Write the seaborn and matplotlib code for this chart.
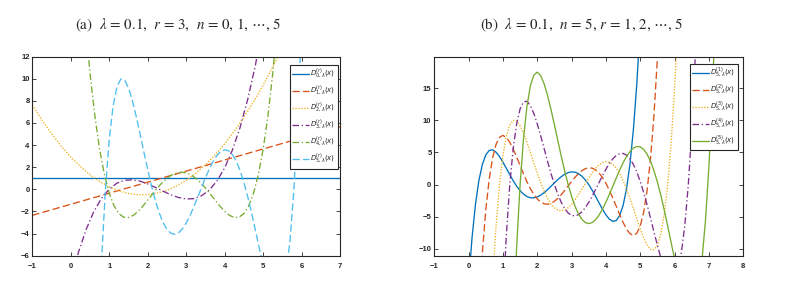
import numpy as np
import matplotlib
matplotlib.use("Agg")
import matplotlib.pyplot as plt
import seaborn as sns

# values at regular x steps
def grid(start, step, n):
    return np.round(start + step * np.arange(n), 3)

# ---- panel (a): lambda = 0.1, r = 3, n = 0..5
xa_line = [-1, 7]
a_n0 = [1.0, 1.0]
a_n1 = [-2.35, 5.65]
# n=2, x from -1 every 0.25
a_n2 = [7.62, 6.26, 5.02, 3.91, 2.92, 2.06, 1.32, 0.71, 0.22, -0.14, -0.38, -0.49,
        -0.48, -0.34, -0.08, 0.31, 0.82, 1.46, 2.22, 3.11, 4.12, 5.26, 6.52, 7.91,
        9.42, 11.06, 12.82]
# n=3, x from 0 every 0.2
a_n3 = [-8.24, -5.67, -3.61, -2.00, -0.80, 0.03, 0.56, 0.82, 0.86, 0.74, 0.49, 0.17,
        -0.17, -0.49, -0.74, -0.87, -0.84, -0.58, -0.07, 0.76, 1.94, 3.54, 5.59, 8.14,
        11.24, 14.94]
# n=4, x from 0.375 every 0.125
a_n4 = [15.24, 10.47, 6.63, 3.61, 1.31, -0.36, -1.50, -2.20, -2.52, -2.55, -2.35, -1.99,
        -1.51, -0.97, -0.42, 0.12, 0.60, 1.00, 1.30, 1.49, 1.55, 1.49, 1.30, 1.00,
        0.60, 0.12, -0.42, -0.97, -1.51, -1.99, -2.35, -2.55, -2.52, -2.20, -1.50, -0.36,
        1.31, 3.61, 6.63, 10.47, 15.24]

# ---- panel (b): lambda = 0.1, n = 5, r = 1..5 (x every 0.1)
b_r1 = [-15.20, -8.26, -3.07, 0.64, 3.12, 4.61, 5.31, 5.41, 5.04, 4.37, 3.50, 2.53,
        1.54, 0.60, -0.24, -0.94, -1.48, -1.85, -2.04, -2.06, -1.92, -1.64, -1.25, -0.78,
        -0.27, 0.27, 0.78, 1.24, 1.61, 1.86, 1.98, 1.93, 1.71, 1.31, 0.73, 0.00,
        -0.87, -1.83, -2.84, -3.82, -4.70, -5.37, -5.71, -5.58, -4.82, -3.25, -0.66, 3.18,
        8.53, 15.66, 24.90]
b_r2 = [-19.41, -10.65, -4.01, 0.84, 4.18, 6.27, 7.36, 7.65, 7.33, 6.57, 5.51, 4.27,
        2.96, 1.66, 0.45, -0.63, -1.53, -2.23, -2.72, -2.99, -3.05, -2.91, -2.59, -2.13,
        -1.56, -0.90, -0.21, 0.48, 1.14, 1.71, 2.17, 2.48, 2.62, 2.56, 2.29, 1.80,
        1.10, 0.20, -0.87, -2.08, -3.36, -4.65, -5.87, -6.90, -7.63, -7.91, -7.57, -6.43,
        -4.27, -0.86, 4.08, 10.82, 19.70, 31.06]
b_r3 = [-14.94, -6.39, 0.00, 4.54, 7.54, 9.27, 9.98, 9.88, 9.17, 8.03, 6.60, 5.01,
        3.37, 1.77, 0.28, -1.04, -2.14, -3.01, -3.62, -3.97, -4.07, -3.93, -3.58, -3.05,
        -2.36, -1.57, -0.71, 0.18, 1.04, 1.84, 2.53, 3.07, 3.43, 3.58, 3.49, 3.15,
        2.56, 1.71, 0.62, -0.67, -2.14, -3.71, -5.32, -6.89, -8.29, -9.40, -10.07, -10.14,
        -9.39, -7.63, -4.58, 0.00, 6.43, 15.04, 26.18]
b_r4 = [-18.08, -7.79, 0.00, 5.64, 9.46, 11.78, 12.86, 12.96, 12.29, 11.06, 9.44, 7.58,
        5.60, 3.62, 1.73, 0.00, -1.51, -2.77, -3.74, -4.41, -4.78, -4.87, -4.67, -4.24,
        -3.58, -2.76, -1.80, -0.75, 0.32, 1.39, 2.39, 3.28, 4.00, 4.53, 4.83, 4.85,
        4.59, 4.02, 3.14, 1.96, 0.49, -1.23, -3.15, -5.22, -7.35, -9.44, -11.38, -13.03,
        -14.24, -14.81, -14.54, -13.19, -10.52, -6.23, 0.00, 8.51, 19.67, 33.91]
b_r5 = [-22.36, -9.71, 0.00, 7.17, 12.18, 15.36, 17.03, 17.48, 16.95, 15.67, 13.86, 11.68,
        9.29, 6.82, 4.39, 2.09, 0.00, -1.83, -3.36, -4.55, -5.40, -5.90, -6.06, -5.90,
        -5.45, -4.74, -3.82, -2.73, -1.53, -0.26, 1.02, 2.25, 3.39, 4.37, 5.15, 5.68,
        5.93, 5.87, 5.47, 4.72, 3.62, 2.17, 0.39, -1.67, -3.98, -6.45, -9.02, -11.56,
        -13.96, -16.08, -17.74, -18.75, -18.90, -17.95, -15.61, -11.60, -5.59, 2.78,
        13.91, 28.22]
# D^(3)_{5} is the same curve in both panels
a_n5 = b_r3

xa2 = grid(-1.0, 0.25, len(a_n2))
xa3 = grid(0.0, 0.2, len(a_n3))
xa4 = grid(0.375, 0.125, len(a_n4))
xa5 = grid(0.7, 0.1, len(a_n5))
xb1 = grid(0.0, 0.1, len(b_r1))
xb2 = grid(0.3, 0.1, len(b_r2))
xb3 = grid(0.7, 0.1, len(b_r3))
xb4 = grid(1.0, 0.1, len(b_r4))
xb5 = grid(1.3, 0.1, len(b_r5))

# matlab default colours
blue, orange, yellow = '#0072BD', '#D95319', '#EDB120'
purple, green, cyan = '#7E2F8E', '#77AC30', '#4DBEEE'
solid = '-'
dashed = (0, (5.5, 2.5))
dotted = (0, (1, 1.2))
dashdot = (0, (5, 2, 1, 2))

sns.set_style('ticks')
plt.rcParams['font.family'] = ['Liberation Sans', 'DejaVu Sans']
plt.rcParams['mathtext.fontset'] = 'stix'

fig = plt.figure(figsize=(7.89, 2.83), dpi=100)
ax_a = fig.add_axes([0.041, 0.0965, 0.390, 0.7035])
ax_b = fig.add_axes([0.5504, 0.0965, 0.3916, 0.7035])

curves_a = [
    (xa_line, a_n0, blue, solid),
    (xa_line, a_n1, orange, dashed),
    (xa2, a_n2, yellow, dotted),
    (xa3, a_n3, purple, dashdot),
    (xa4, a_n4, green, dashdot),
    (xa5, a_n5, cyan, dashed),
]
for n, (xs, ys, c, ls) in enumerate(curves_a):
    sns.lineplot(x=xs, y=ys, ax=ax_a, color=c, linestyle=ls, linewidth=0.95,
                 sort=False, estimator=None, label=r'$D^{(r)}_{%d,\lambda}(x)$' % n)

curves_b = [
    (xb1, b_r1, blue, solid),
    (xb2, b_r2, orange, dashed),
    (xb3, b_r3, yellow, dotted),
    (xb4, b_r4, purple, dashdot),
    (xb5, b_r5, green, solid),
]
for r, (xs, ys, c, ls) in enumerate(curves_b, start=1):
    sns.lineplot(x=xs, y=ys, ax=ax_b, color=c, linestyle=ls, linewidth=0.95,
                 sort=False, estimator=None, label=r'$D^{(%d)}_{5,\lambda}(x)$' % r)

ax_a.set_xlim(-1, 7)
ax_a.set_ylim(-6, 12)
ax_a.set_xticks(range(-1, 8))
ax_a.set_yticks(range(-6, 13, 2))
ax_b.set_xlim(-1, 8)
ax_b.set_ylim(-11.05, 19.9)
ax_b.set_xticks(range(-1, 9))
ax_b.set_yticks(range(-10, 16, 5))

for ax in (ax_a, ax_b):
    ax.set_xlabel('')
    ax.set_ylabel('')
    ax.tick_params(direction='in', length=3, width=0.6, top=True, right=True,
                   labelsize=5.5, colors='#262626')
    ax.tick_params(axis='x', pad=5)
    ax.tick_params(axis='y', pad=2)
    for lab in ax.get_xticklabels() + ax.get_yticklabels():
        lab.set_fontweight('bold')
    for s in ax.spines.values():
        s.set_linewidth(0.8)
        s.set_color('#262626')
        s.set_visible(True)

leg_kw = dict(loc='upper right', borderaxespad=0, fontsize=5.0, handlelength=2.4,
              handletextpad=0.2, labelspacing=0.42, borderpad=0.35, frameon=True,
              fancybox=False, framealpha=1, edgecolor='#262626')
leg_a = ax_a.legend(bbox_to_anchor=(0.9935, 0.958), **leg_kw)
leg_b = ax_b.legend(bbox_to_anchor=(0.983, 0.965), **leg_kw)
for leg in (leg_a, leg_b):
    leg.get_frame().set_linewidth(0.8)
    for t in leg.get_texts():
        t.set_math_fontfamily('dejavusans')

title_kw = dict(ha='center', va='center', fontsize=10.8, family='STIXGeneral')
fig.text(0.2256, 0.911,
         r'(a)  $\lambda$ = 0.1,  $r$ = 3,  $n$ = 0, 1, $\cdots$, 5', **title_kw)
fig.text(0.7376, 0.911,
         r'(b)  $\lambda$ = 0.1,  $n$ = 5, $r$ = 1, 2, $\cdots$, 5', **title_kw)

fig.savefig('out.png', dpi=100)
